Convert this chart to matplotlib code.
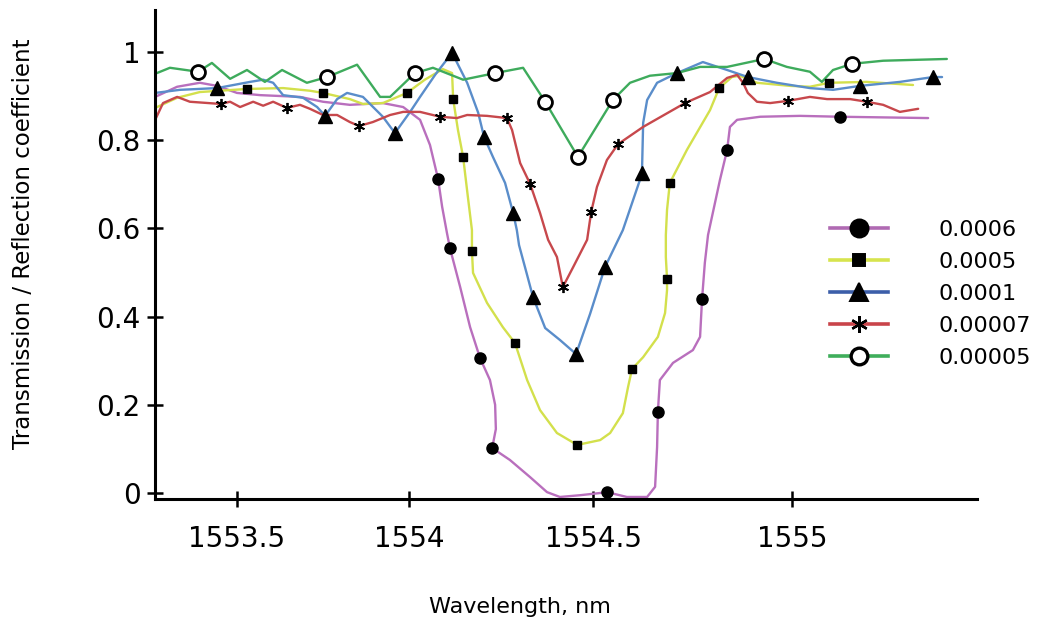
import numpy as np
import matplotlib
matplotlib.use("Agg")
import matplotlib.pyplot as plt
from matplotlib.lines import Line2D
from matplotlib.ticker import FixedLocator

# ---------------- data ----------------
labels = ["0.0006", "0.0005", "0.0001", "0.00007", "0.00005"]

wl_0006 = [1553.262, 1553.326, 1553.392, 1553.442, 1553.500, 1553.567, 1553.683, 1553.750,
           1553.828, 1553.924, 1553.983, 1554.030, 1554.057, 1554.079, 1554.090, 1554.103,
           1554.111, 1554.139, 1554.166, 1554.193, 1554.220, 1554.234, 1554.236, 1554.226,
           1554.274, 1554.329, 1554.375, 1554.410, 1554.465, 1554.518, 1554.535, 1554.585,
           1554.636, 1554.656, 1554.661, 1554.663, 1554.668, 1554.701, 1554.751, 1554.769,
           1554.774, 1554.781, 1554.789, 1554.819, 1554.837, 1554.844, 1554.862, 1554.920,
           1555.020, 1555.121, 1555.342]
r_0006 = [0.898, 0.921, 0.930, 0.923, 0.907, 0.902, 0.898, 0.887,
          0.880, 0.884, 0.875, 0.846, 0.789, 0.712, 0.649, 0.590,
          0.556, 0.467, 0.376, 0.306, 0.256, 0.200, 0.145, 0.102,
          0.075, 0.036, 0.002, -0.009, -0.005, 0.000, 0.002, -0.009,
          -0.009, 0.014, 0.104, 0.184, 0.256, 0.295, 0.324, 0.354,
          0.440, 0.522, 0.585, 0.710, 0.778, 0.830, 0.846, 0.853,
          0.855, 0.853, 0.850]
mk_0006 = [13, 16, 19, 23, 30, 35, 40, 44, 49]

wl_0005 = [1553.262, 1553.326, 1553.392, 1553.529, 1553.634, 1553.712, 1553.750, 1553.828,
           1553.866, 1553.924, 1553.994, 1554.043, 1554.092, 1554.117, 1554.120, 1554.133,
           1554.147, 1554.160, 1554.171, 1554.171, 1554.174, 1554.212, 1554.255, 1554.288,
           1554.321, 1554.356, 1554.402, 1554.457, 1554.518, 1554.543, 1554.575, 1554.588,
           1554.598, 1554.626, 1554.663, 1554.681, 1554.686, 1554.686, 1554.683, 1554.683,
           1554.686, 1554.693, 1554.736, 1554.794, 1554.817, 1554.849, 1554.869, 1554.912,
           1554.995, 1555.045, 1555.093, 1555.188, 1555.304]
r_0005 = [0.873, 0.896, 0.909, 0.916, 0.918, 0.912, 0.907, 0.893,
          0.882, 0.884, 0.907, 0.937, 0.961, 0.952, 0.893, 0.823,
          0.762, 0.671, 0.596, 0.549, 0.499, 0.431, 0.376, 0.340,
          0.256, 0.188, 0.136, 0.109, 0.120, 0.136, 0.181, 0.240,
          0.281, 0.308, 0.354, 0.408, 0.460, 0.485, 0.535, 0.585,
          0.642, 0.703, 0.778, 0.868, 0.918, 0.943, 0.946, 0.930,
          0.923, 0.921, 0.930, 0.932, 0.925]
mk_0005 = [3, 6, 10, 14, 16, 19, 23, 27, 32, 37, 41, 44, 50]

wl_0001 = [1553.262, 1553.334, 1553.442, 1553.538, 1553.576, 1553.605, 1553.634, 1553.692,
           1553.733, 1553.756, 1553.791, 1553.820, 1553.866, 1553.924, 1553.959, 1554.003,
           1554.030, 1554.071, 1554.117, 1554.158, 1554.188, 1554.204, 1554.228, 1554.261,
           1554.283, 1554.293, 1554.299, 1554.321, 1554.337, 1554.370, 1554.410, 1554.454,
           1554.492, 1554.530, 1554.575, 1554.618, 1554.623, 1554.626, 1554.636, 1554.661,
           1554.711, 1554.776, 1554.837, 1554.889, 1554.962, 1555.045, 1555.103, 1555.171,
           1555.271, 1555.354, 1555.377]
r_0001 = [0.907, 0.914, 0.918, 0.932, 0.937, 0.930, 0.902, 0.896,
          0.875, 0.855, 0.893, 0.907, 0.898, 0.853, 0.816, 0.864,
          0.898, 0.948, 0.998, 0.930, 0.862, 0.807, 0.762, 0.703,
          0.635, 0.596, 0.562, 0.494, 0.444, 0.374, 0.347, 0.315,
          0.406, 0.512, 0.596, 0.710, 0.726, 0.839, 0.891, 0.930,
          0.952, 0.977, 0.959, 0.943, 0.930, 0.918, 0.914, 0.923,
          0.932, 0.943, 0.943]
mk_0001 = [2, 9, 14, 18, 21, 24, 28, 31, 33, 36, 40, 43, 47, 49]

wl_00007 = [1553.262, 1553.285, 1553.326, 1553.363, 1553.453, 1553.480, 1553.509, 1553.547,
            1553.576, 1553.605, 1553.645, 1553.683, 1553.712, 1553.750, 1553.791, 1553.828,
            1553.855, 1553.895, 1553.945, 1553.983, 1554.030, 1554.084, 1554.130, 1554.158,
            1554.212, 1554.266, 1554.280, 1554.302, 1554.329, 1554.356, 1554.378, 1554.402,
            1554.418, 1554.446, 1554.484, 1554.495, 1554.510, 1554.535, 1554.563, 1554.626,
            1554.731, 1554.794, 1554.837, 1554.862, 1554.877, 1554.889, 1554.912, 1554.945,
            1554.990, 1555.045, 1555.088, 1555.146, 1555.188, 1555.229, 1555.271, 1555.317]
r_00007 = [0.846, 0.884, 0.898, 0.887, 0.882, 0.887, 0.875, 0.887,
           0.878, 0.887, 0.873, 0.880, 0.871, 0.857, 0.857, 0.841,
           0.832, 0.841, 0.857, 0.864, 0.864, 0.853, 0.850, 0.857,
           0.855, 0.850, 0.823, 0.748, 0.701, 0.635, 0.574, 0.535,
           0.467, 0.512, 0.574, 0.637, 0.694, 0.755, 0.791, 0.830,
           0.884, 0.909, 0.941, 0.948, 0.930, 0.907, 0.887, 0.884,
           0.889, 0.898, 0.893, 0.893, 0.887, 0.880, 0.864, 0.871]
mk_00007 = [4, 10, 16, 21, 25, 28, 32, 35, 38, 40, 48, 52]

wl_00005 = [1553.267, 1553.305, 1553.387, 1553.427, 1553.480, 1553.529, 1553.581, 1553.631,
            1553.703, 1553.762, 1553.849, 1553.916, 1553.945, 1554.016, 1554.065, 1554.147,
            1554.234, 1554.310, 1554.370, 1554.459, 1554.550, 1554.593, 1554.643, 1554.711,
            1554.769, 1554.837, 1554.930, 1554.987, 1555.045, 1555.075, 1555.103, 1555.151,
            1555.229, 1555.389]
r_00005 = [0.952, 0.964, 0.955, 0.975, 0.939, 0.959, 0.932, 0.959,
           0.930, 0.943, 0.971, 0.898, 0.898, 0.952, 0.964, 0.937,
           0.952, 0.964, 0.887, 0.762, 0.891, 0.930, 0.946, 0.952,
           0.966, 0.966, 0.984, 0.966, 0.955, 0.932, 0.959, 0.973,
           0.980, 0.984]
mk_00005 = [2, 9, 13, 16, 18, 19, 20, 26, 31]

x_ticks = [1553.5, 1554.0, 1554.5, 1555.0]
x_tick_labels = ["1553.5", "1554", "1554.5", "1555"]
y_ticks = [0, 0.2, 0.4, 0.6, 0.8, 1.0]
y_tick_labels = ["0", "0.2", "0.4", "0.6", "0.8", "1"]

# ---------------- axis calibration (the reference's uneven wavelength axis) ----------------
cal_wl = [1553.0, 1553.5, 1554.0, 1554.5, 1555.0, 1556.0]
cal_pos = [0.0, 172.0, 344.0, 528.0, 727.0, 1125.0]


def fwd(v):
    return np.interp(v, cal_wl, cal_pos)


def inv(p):
    return np.interp(p, cal_pos, cal_wl)


# ---------------- styles ----------------
line_colors = ["#b96fbd", "#d3e04c", "#5a8dca", "#c7484c", "#3eab5c"]
legend_colors = ["#b06ab3", "#d7e44e", "#3c5ea9", "#c9444a", "#3fae5b"]
markers = ["o", "s", "^", (6, 2, 0), "o"]
plot_ms = [8, 5.5, 10, 8, 10]
legend_ms = [13, 9, 13, 12, 12]
mfcs = ["black", "black", "black", "black", "white"]
mews = [1, 1, 1, 1.3, 2]

series = [
    (wl_0006, r_0006, mk_0006),
    (wl_0005, r_0005, mk_0005),
    (wl_0001, r_0001, mk_0001),
    (wl_00007, r_00007, mk_00007),
    (wl_00005, r_00005, mk_00005),
]

fig = plt.figure(figsize=(10.48, 6.26), dpi=100)
ax = fig.add_axes([155 / 1048, 1 - 499 / 626, 822 / 1048, 489 / 626])
ax.set_xscale("function", functions=(fwd, inv))

for i, (xs, ys, mk) in enumerate(series):
    ax.plot(np.asarray(xs), np.asarray(ys), color=line_colors[i], lw=1.7,
            zorder=2 + i * 0.1, solid_capstyle="round", solid_joinstyle="round")
for i, (xs, ys, mk) in enumerate(series):
    xs = np.asarray(xs)
    ys = np.asarray(ys)
    ax.plot(xs[mk], ys[mk], ls="none", marker=markers[i], ms=plot_ms[i],
            mfc=mfcs[i], mec="black", mew=mews[i], zorder=5)

ax.set_xlim(1553.2616, 1555.4648)
ax.set_ylim(-0.0136, 1.095)

ax.xaxis.set_major_locator(FixedLocator(x_ticks))
ax.xaxis.set_minor_locator(FixedLocator([]))
ax.set_xticklabels(x_tick_labels)
ax.set_yticks(y_ticks)
ax.set_yticklabels(y_tick_labels)

for s in ["top", "right"]:
    ax.spines[s].set_visible(False)
for s in ["left", "bottom"]:
    ax.spines[s].set_linewidth(2.2)

ax.tick_params(axis="both", direction="inout", length=11, width=1.8, labelsize=20)
ax.tick_params(axis="x", pad=13)
ax.tick_params(axis="y", pad=5)

ax.set_xlabel("Wavelength, nm", fontsize=16)
ax.xaxis.set_label_coords(0.444, -0.2)
ax.set_ylabel("Transmission / Reflection coefficient", fontsize=16.5)
ax.yaxis.set_label_coords(-0.146, 0.523)

handles = [Line2D([], [], color=legend_colors[i], lw=2.6, marker=markers[i],
                  ms=legend_ms[i], mfc=mfcs[i], mec="black", mew=mews[i] + 0.4)
           for i in range(5)]
ax.legend(handles, labels, loc="upper left", bbox_to_anchor=(0.821, 0.571),
          frameon=False, fontsize=16, handlelength=2.6, handletextpad=2.3,
          labelspacing=0.54, borderpad=0, borderaxespad=0)

fig.savefig("out.png", dpi=100)
